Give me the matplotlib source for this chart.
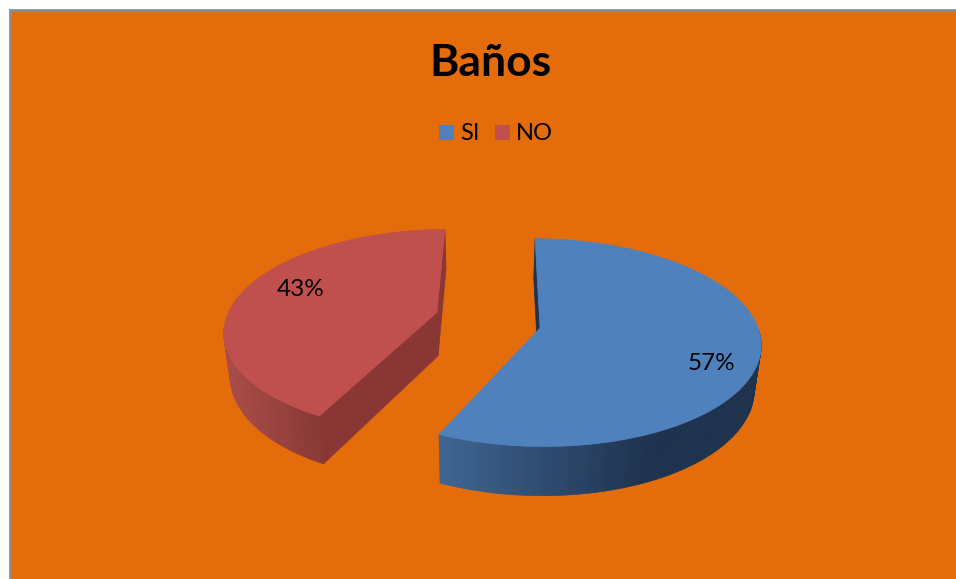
import numpy as np
import matplotlib
matplotlib.use("Agg")
import matplotlib.pyplot as plt
from matplotlib.collections import PolyCollection
from matplotlib.colors import to_rgb
from matplotlib.patches import Polygon, Rectangle

# datos del grafico
title = "Baños"
categories = ["SI", "NO"]
shares = [57, 43]

top_colors = ["#4F81BD", "#C0504D"]
dark_colors = ["#1E3350", "#873835"]
light_colors = ["#3F6694", "#A84C49"]
cut_colors = ["#1E3350", "#8A3634"]

plt.rcParams["font.family"] = ["Lato", "DejaVu Sans"]

fig = plt.figure(figsize=(9.56, 5.79), dpi=100, facecolor="white")
ax = fig.add_axes([0, 0, 1, 1])
ax.set_xlim(0, 956)
ax.set_ylim(579, 0)
ax.axis("off")

# fondo naranja con borde gris arriba y a la izquierda
ax.add_patch(Rectangle((10, 10), 960, 580, fc="#E46C0A", ec="#8C8C8C", lw=2))

# camara: punto de fuga y escalas del plano del pastel
xv, yv = 485.0, -647.0
fx, ky = 2100.0, 974.0
radius = 0.1056
thick = 44.0
shrink = 0.025

# ajustes en pixeles de cada porcion: borde y vertice
rim_shift = [(-2.5, 5.0), (4.0, 4.0)]
apex_shift = [(0.0, 1.5), (-4.0, -4.0)]
# recorte en grados al inicio y al final de cada arco
trim = [(0.8, 0.0), (5.0, 1.2)]


def project(X, Y, shift, low=False):
    w = 1 + Y
    x = fx * X / w
    y = yv + ky / w
    if low:
        return xv + x * (1 - shrink) + shift[0], y + thick / w + shift[1]
    return xv + x + shift[0], y + shift[1]


def rim(cx, cy, a0, a1, n=160):
    # angulos en grados, sentido horario desde arriba
    a = np.radians(np.linspace(a0, a1, n))
    return cx + radius * np.sin(a), cy + radius * np.cos(a)


def blend(c0, c1, t):
    c0, c1 = np.array(to_rgb(c0)), np.array(to_rgb(c1))
    return c0 + (c1 - c0) * t


# separacion de las porciones a lo largo de su bisectriz
center = (0.0025, 0.0057)
explode = 0.0243
angles = 360 * np.cumsum([0] + shares) / sum(shares)
slices = []
for i in range(len(shares)):
    mid = np.radians((angles[i] + angles[i + 1]) / 2)
    cx = center[0] + explode * np.sin(mid)
    cy = center[1] + explode * np.cos(mid)
    slices.append((cx, cy, angles[i] + trim[i][0], angles[i + 1] - trim[i][1]))


def face(pts_a, pts_b, color, z):
    ax.add_patch(Polygon([*pts_a, *pts_b[::-1]], closed=True, fc=color, ec=color, lw=0.5, zorder=z))


for i, (cx, cy, a0, a1) in enumerate(slices):
    rx, ry = rim(cx, cy, a0, a1)
    xt, yt = project(rx, ry, rim_shift[i])
    xb, yb = project(rx, ry, rim_shift[i], low=True)
    apex_t = project(cx, cy, apex_shift[i])
    apex_b = project(cx, cy, apex_shift[i], low=True)

    # caras de corte
    first_t, first_b = (xt[0], yt[0]), (xb[0], yb[0])
    last_t, last_b = (xt[-1], yt[-1]), (xb[-1], yb[-1])
    if i == 0:
        face([apex_t, first_t], [apex_b, first_b], cut_colors[i], 2)
    else:
        face([apex_t, last_t], [apex_b, last_b], cut_colors[i], 2)
        face([apex_t, first_t], [apex_b, first_b], cut_colors[i], 3)

    # lateral con degradado; solo la parte que da al frente
    quads, cols = [], []
    for k in range(len(xt) - 1):
        if max(yt[k], yt[k + 1]) < yt[np.argmin(np.abs(ry))] - 1:
            continue
        quads.append([(xt[k], yt[k]), (xt[k + 1], yt[k + 1]), (xb[k + 1], yb[k + 1]), (xb[k], yb[k])])
        if i == 0:
            t = np.clip((650 - xt[k]) / 210, 0, 1)
        else:
            t = np.clip((324 - xt[k]) / 94, 0, 1)
        cols.append(blend(dark_colors[i], light_colors[i], t))
    ax.add_collection(PolyCollection(quads, facecolors=cols, edgecolors=cols, linewidths=0.5, zorder=3))

    # cara superior
    ax.add_patch(Polygon([apex_t, *zip(xt, yt)], closed=True, fc=top_colors[i], ec=top_colors[i], lw=0.5, zorder=4))

# textos
ax.text(490.5, 63, title, ha="center", va="center", fontsize=32, fontweight="bold", color="black", zorder=6)

ax.add_patch(Rectangle((439, 125), 15, 15, fc=top_colors[0], ec="none", zorder=6))
ax.text(460, 133, categories[0], ha="left", va="center", fontsize=17, zorder=6)
ax.add_patch(Rectangle((495, 125), 15, 15, fc=top_colors[1], ec="none", zorder=6))
ax.text(516, 133, categories[1], ha="left", va="center", fontsize=17, zorder=6)

ax.text(711, 363, "%d%%" % shares[0], ha="center", va="center", fontsize=17.5, zorder=6)
ax.text(301, 290, "%d%%" % shares[1], ha="center", va="center", fontsize=17.5, zorder=6)

fig.savefig("out.png", dpi=100, facecolor="white")
